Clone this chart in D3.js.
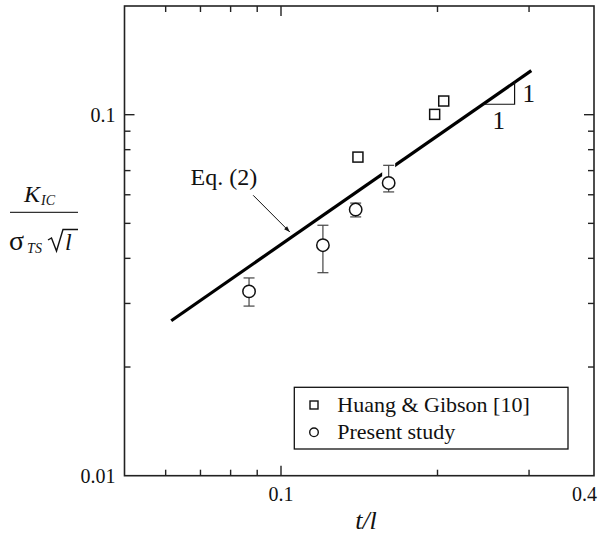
<!DOCTYPE html>
<html>
<head>
<meta charset="utf-8">
<script src="https://cdn.jsdelivr.net/npm/d3@7"></script>
<style>
  body { margin: 0; background: #fff; }
  text { font-family: "Liberation Serif", "Times New Roman", serif; fill: #111; }
</style>
</head>
<body>
<div id="chart"></div>
<script>
// data
var huangX = [0.1406, 0.1975, 0.2056]
var huangY = [0.0763, 0.1002, 0.1091]

var studyX = [0.0868, 0.1204, 0.1392, 0.1611]
var studyY = [0.0324, 0.0435, 0.0546, 0.0647]
var studyHi = [0.0353, 0.0494, 0.0569, 0.0724]
var studyLo = [0.0295, 0.0365, 0.0521, 0.0611]

// Eq. (2): slope 1 line on log-log axes
var eqCoef = 0.437
var eqRange = [0.0615, 0.303]

var xMajor = [0.1]
var xMinor = [0.06, 0.07, 0.08, 0.09, 0.2, 0.3]
var xLabels = [0.1, 0.4]
var yMajor = [0.1]
var yMinor = [0.02, 0.03, 0.04, 0.05, 0.06, 0.07, 0.08, 0.09]
var yLabels = [0.01, 0.1]

var width = 598, height = 540
var margin = {top: 6, right: 4, bottom: 64.3, left: 124.5}

var svg = d3.select("#chart")
  .append("svg")
  .attr("width", width)
  .attr("height", height)

var xScale = d3.scaleLog()
  .domain([0.05, 0.4])
  .range([margin.left, width - margin.right])

var yScale = d3.scaleLog()
  .domain([0.01, 0.2])
  .range([height - margin.bottom, margin.top])

var x0 = xScale.range()[0], x1 = xScale.range()[1]
var y0 = yScale.range()[0], y1 = yScale.range()[1]

// frame
svg.append("rect")
  .attr("x", x0).attr("y", y1)
  .attr("width", x1 - x0).attr("height", y0 - y1)
  .style("fill", "none")
  .style("stroke", "#222")
  .style("stroke-width", 1.6)

// inward ticks on all four sides
function tickSet(vals, len) {
  vals.forEach(function(v) {
    var px = xScale(v)
    svg.append("line").attr("x1", px).attr("x2", px).attr("y1", y0).attr("y2", y0 - len)
      .style("stroke", "#222").style("stroke-width", 1.4)
    svg.append("line").attr("x1", px).attr("x2", px).attr("y1", y1).attr("y2", y1 + len)
      .style("stroke", "#222").style("stroke-width", 1.4)
  })
}
function tickSetY(vals, len) {
  vals.forEach(function(v) {
    var py = yScale(v)
    svg.append("line").attr("y1", py).attr("y2", py).attr("x1", x0).attr("x2", x0 + len)
      .style("stroke", "#222").style("stroke-width", 1.4)
    svg.append("line").attr("y1", py).attr("y2", py).attr("x1", x1).attr("x2", x1 - len)
      .style("stroke", "#222").style("stroke-width", 1.4)
  })
}
tickSet(xMajor, 10)
tickSet(xMinor, 6)
tickSetY(yMajor, 10)
tickSetY(yMinor, 6)

// tick labels
svg.selectAll(".xlab")
  .data(xLabels)
  .enter()
  .append("text")
  .attr("class", "xlab")
  .attr("x", function(d, i) { return i == xLabels.length - 1 ? width - 1 : xScale(d) })
  .attr("y", y0 + 25)
  .style("text-anchor", function(d, i) { return i == xLabels.length - 1 ? "end" : "middle" })
  .style("font-size", "20px")
  .text(function(d) { return d })

svg.selectAll(".ylab")
  .data(yLabels)
  .enter()
  .append("text")
  .attr("class", "ylab")
  .attr("x", x0 - 9)
  .attr("y", function(d) { return yScale(d) + 7 })
  .style("text-anchor", "end")
  .style("font-size", "20px")
  .text(function(d) { return d })

// axis titles
svg.append("text")
  .attr("x", 366)
  .attr("y", 529)
  .style("text-anchor", "middle")
  .style("font-size", "26px")
  .style("font-style", "italic")
  .text("t/l")

var yl = svg.append("g")
yl.append("text")
  .attr("x", 24).attr("y", 202)
  .style("font-size", "24px")
  .html('<tspan font-style="italic">K</tspan><tspan font-style="italic" font-size="14px" dx="1" dy="3">IC</tspan>')
yl.append("line")
  .attr("x1", 10).attr("x2", 78).attr("y1", 212.3).attr("y2", 212.3)
  .style("stroke", "#333").style("stroke-width", 1.3)
yl.append("text")
  .attr("x", 9).attr("y", 250)
  .style("font-size", "28px")
  .html('<tspan>σ</tspan><tspan font-style="italic" font-size="14px" dx="3" dy="3">TS</tspan>')
yl.append("path")
  .attr("d", "M48,240 L51.5,238 L56.5,251 L63,229.5 L78,229.5")
  .style("fill", "none").style("stroke", "#111").style("stroke-width", 1.4)
yl.append("text")
  .attr("x", 65).attr("y", 250)
  .style("font-size", "24px")
  .style("font-style", "italic")
  .text("l")

// Eq. (2) line
var eqLine = d3.line()
  .x(function(d) { return xScale(d) })
  .y(function(d) { return yScale(eqCoef * d) })

svg.append("path")
  .datum(eqRange)
  .attr("d", eqLine)
  .style("fill", "none")
  .style("stroke", "#000")
  .style("stroke-width", 3.2)

// slope triangle
var triX = [0.2446, 0.2814]
svg.append("path")
  .attr("d", "M" + xScale(triX[0]) + "," + yScale(eqCoef * triX[0]) +
    "L" + xScale(triX[1]) + "," + yScale(eqCoef * triX[0]) +
    "L" + xScale(triX[1]) + "," + yScale(eqCoef * triX[1]))
  .style("fill", "none")
  .style("stroke", "#111")
  .style("stroke-width", 1.2)

svg.append("text")
  .attr("x", xScale(triX[1]) + 8)
  .attr("y", yScale(eqCoef * triX[1]) + 20)
  .style("font-size", "25px")
  .text("1")
svg.append("text")
  .attr("x", (xScale(triX[0]) + xScale(triX[1])) / 2)
  .attr("y", yScale(eqCoef * triX[0]) + 25)
  .style("font-size", "25px")
  .style("text-anchor", "middle")
  .text("1")

// Eq. (2) label with arrow
svg.append("defs").append("marker")
  .attr("id", "arr")
  .attr("viewBox", "0 0 10 10")
  .attr("refX", 10).attr("refY", 5)
  .attr("markerWidth", 7).attr("markerHeight", 6)
  .attr("orient", "auto")
  .append("path")
  .attr("d", "M0,1.5 L10,5 L0,8.5 Z")
  .style("fill", "#111")

svg.append("text")
  .attr("x", xScale(0.067))
  .attr("y", yScale(0.0637))
  .style("font-size", "24px")
  .text("Eq. (2)")

svg.append("line")
  .attr("x1", xScale(0.0884)).attr("y1", yScale(0.0598))
  .attr("x2", xScale(0.104)).attr("y2", yScale(0.0473))
  .attr("marker-end", "url(#arr)")
  .style("stroke", "#111")
  .style("stroke-width", 1)

// error bars of present study (white halo breaks the Eq. line)
var capW = 5.5
var bars = svg.selectAll(".err")
  .data(studyX)
  .enter()
  .append("g")
  .attr("class", "err")

bars.append("rect")
  .attr("x", function(d) { return xScale(d) - capW - 1 })
  .attr("y", function(d, i) { return yScale(studyHi[i]) - 3 })
  .attr("width", capW * 2 + 2)
  .attr("height", function(d, i) { return yScale(studyY[i]) - yScale(studyHi[i]) - 3 })
  .style("fill", "#fff")

bars.append("line")
  .attr("x1", function(d) { return xScale(d) })
  .attr("x2", function(d) { return xScale(d) })
  .attr("y1", function(d, i) { return yScale(studyHi[i]) })
  .attr("y2", function(d, i) { return yScale(studyLo[i]) })
  .style("stroke", "#444").style("stroke-width", 1.2)

bars.append("line")
  .attr("x1", function(d) { return xScale(d) - capW })
  .attr("x2", function(d) { return xScale(d) + capW })
  .attr("y1", function(d, i) { return yScale(studyHi[i]) })
  .attr("y2", function(d, i) { return yScale(studyHi[i]) })
  .style("stroke", "#444").style("stroke-width", 1.2)

bars.append("line")
  .attr("x1", function(d) { return xScale(d) - capW })
  .attr("x2", function(d) { return xScale(d) + capW })
  .attr("y1", function(d, i) { return yScale(studyLo[i]) })
  .attr("y2", function(d, i) { return yScale(studyLo[i]) })
  .style("stroke", "#444").style("stroke-width", 1.2)

bars.append("circle")
  .attr("cx", function(d) { return xScale(d) })
  .attr("cy", function(d, i) { return yScale(studyY[i]) })
  .attr("r", 6.2)
  .style("fill", "#fff")
  .style("stroke", "#111")
  .style("stroke-width", 1.5)

// Huang & Gibson squares
svg.selectAll(".sq")
  .data(huangX)
  .enter()
  .append("rect")
  .attr("class", "sq")
  .attr("x", function(d) { return xScale(d) - 5 })
  .attr("y", function(d, i) { return yScale(huangY[i]) - 5 })
  .attr("width", 10)
  .attr("height", 10)
  .style("fill", "#fff")
  .style("stroke", "#111")
  .style("stroke-width", 1.5)

// legend
var lg = svg.append("g")
lg.append("rect")
  .attr("x", 294.3).attr("y", 387.3)
  .attr("width", 273.7).attr("height", 61.7)
  .style("fill", "#fff")
  .style("stroke", "#111")
  .style("stroke-width", 1.3)
lg.append("rect")
  .attr("x", 310).attr("y", 401).attr("width", 8).attr("height", 8)
  .style("fill", "none").style("stroke", "#111").style("stroke-width", 1.4)
lg.append("circle")
  .attr("cx", 314).attr("cy", 432.3).attr("r", 4.3)
  .style("fill", "none").style("stroke", "#111").style("stroke-width", 1.4)
lg.append("text")
  .attr("x", 337.3).attr("y", 411.5)
  .style("font-size", "22px")
  .text("Huang & Gibson [10]")
lg.append("text")
  .attr("x", 337.3).attr("y", 438.5)
  .style("font-size", "22px")
  .text("Present study")
</script>
</body>
</html>
